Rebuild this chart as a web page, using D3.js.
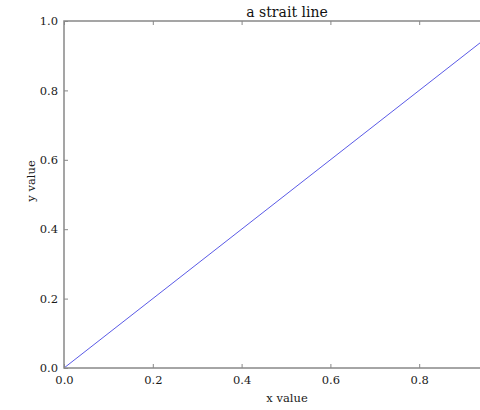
<!DOCTYPE html>
<html><head><meta charset="utf-8">
<script src="https://cdn.jsdelivr.net/npm/d3@7"></script>
<style>html,body{margin:0;padding:0;background:#fff;overflow:hidden}svg{display:block}</style>
</head><body>
<script>
const xValues = [0.0, 1.0];
const yValues = [0.0, 1.0];
const xTicks = [0.0, 0.2, 0.4, 0.6, 0.8];
const yTicks = [0.0, 0.2, 0.4, 0.6, 0.8, 1.0];
const title = "a strait line";
const xLabel = "x value";
const yLabel = "y value";

(function () {
const W = 480, H = 410;
const mLeft = 64, mTop = 21, mRight = 508, mBottom = 368;
const font = "'DejaVu Serif', serif";
const frame = "#888";

const svg = d3.select("body").append("svg").attr("width", W).attr("height", H);
const x = d3.scaleLinear().domain([0, 1]).range([mLeft, mRight]);
const y = d3.scaleLinear().domain([0, 1]).range([mBottom, mTop]);

svg.append("path")
  .datum(xValues.map((v, i) => [v, yValues[i]]))
  .attr("d", d3.line().x(d => x(d[0])).y(d => y(d[1])))
  .attr("fill", "none").attr("stroke", "#5a5ae6").attr("stroke-width", 1);

svg.append("rect").attr("x", mLeft).attr("y", mTop).attr("width", mRight - mLeft).attr("height", mBottom - mTop)
  .attr("fill", "none").attr("stroke", frame).attr("stroke-width", 1.5);

const fmt = d3.format(".1f");
const bx = svg.append("g").attr("transform", `translate(0,${mBottom})`)
  .call(d3.axisBottom(x).tickValues(xTicks).tickFormat(fmt).tickSizeInner(-4).tickSizeOuter(0).tickPadding(8));
const tx = svg.append("g").attr("transform", `translate(0,${mTop})`)
  .call(d3.axisTop(x).tickValues(xTicks).tickFormat("").tickSizeInner(-4).tickSizeOuter(0));
const ly = svg.append("g").attr("transform", `translate(${mLeft},0)`)
  .call(d3.axisLeft(y).tickValues(yTicks).tickFormat(fmt).tickSizeInner(-4).tickSizeOuter(0).tickPadding(6));

[bx, tx, ly].forEach(g => {
  g.select(".domain").remove();
  g.selectAll(".tick line").attr("stroke", frame);
  g.selectAll(".tick text").attr("font-family", font).attr("font-size", 11.5).attr("fill", "#1a1a1a");
});

svg.append("text").attr("x", (mLeft + mRight) / 2 + 1).attr("y", 17).attr("text-anchor", "middle")
  .attr("font-family", font).attr("font-size", 14).attr("fill", "#111").text(title);
svg.append("text").attr("x", (mLeft + mRight) / 2 + 1).attr("y", 402).attr("text-anchor", "middle")
  .attr("font-family", font).attr("font-size", 11.5).attr("fill", "#1a1a1a").text(xLabel);
svg.append("text").attr("transform", "translate(35,181) rotate(-90)").attr("text-anchor", "middle")
  .attr("font-family", font).attr("font-size", 11.5).attr("fill", "#1a1a1a").text(yLabel);
})();
</script>
</body></html>
